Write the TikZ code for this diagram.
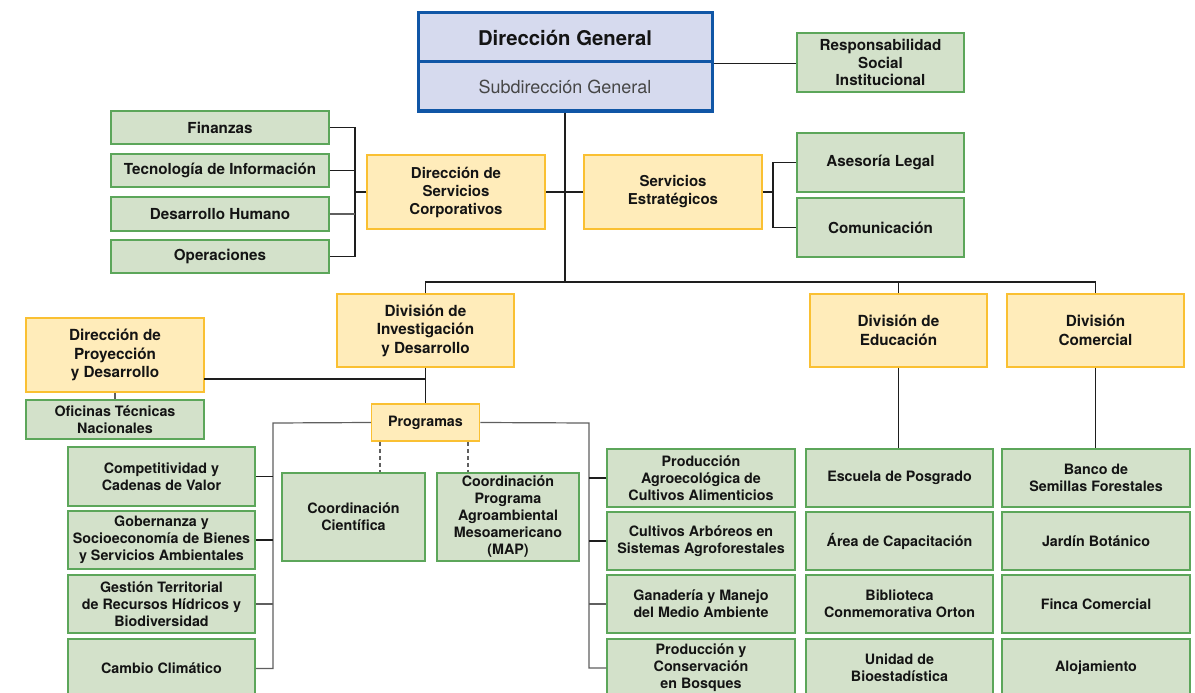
\documentclass[tikz,border=0pt]{standalone}
\usepackage{fontspec}
\setmainfont{TeX Gyre Heros}
\definecolor{gfill}{RGB}{211,225,202}
\definecolor{gline}{RGB}{92,166,90}
\definecolor{yfill}{RGB}{255,236,186}
\definecolor{yline}{RGB}{250,192,50}
\definecolor{bfill}{RGB}{214,218,238}
\definecolor{bline}{RGB}{16,86,166}
\definecolor{txt}{RGB}{20,20,20}
\definecolor{linec}{RGB}{30,30,30}
\definecolor{linegray}{RGB}{95,95,95}
\definecolor{subtxt}{RGB}{70,70,70}
\newcommand\gfnt{\fontsize{14.3}{17}\selectfont\bfseries}
\newcommand\tfnt{\fontsize{15.2}{17.5}\selectfont\bfseries}
\newcommand\yfnt{\fontsize{15.3}{18.5}\selectfont\bfseries}
\newcommand\sfnt{\fontsize{15}{18}\selectfont\bfseries}
\tikzset{
  base/.style={draw, rectangle, align=center, inner sep=0pt, text=txt},
  gbox/.style={base, fill=gfill, draw=gline, line width=1.5pt, font=\gfnt},
  tbox/.style={gbox, font=\tfnt},
  ybox/.style={base, fill=yfill, draw=yline, line width=1.5pt, font=\yfnt},
  sbox/.style={base, fill=yfill, draw=yline, line width=1.5pt, font=\sfnt},
  bbox/.style={base, fill=bfill, draw=bline, line width=3pt},
  wh/.style 2 args={minimum width=#1pt, minimum height=#2pt},
  conn/.style={draw=linec, line width=1.2pt},
  conng/.style={draw=linegray, line width=1.2pt},
  dconn/.style={draw=linegray, line width=1.2pt, dashed, dash pattern=on 4pt off 3pt},
}
\begin{document}
\begin{tikzpicture}[x=1pt,y=-1pt]
\useasboundingbox (0,0) rectangle (1195,693);
% top
\node[bbox, wh={294}{49}, font=\fontsize{20.3}{24}\selectfont\bfseries] (dg) at (565,37.5) {Dirección General};
\node[bbox, wh={294}{49}, font=\fontsize{18}{22}\selectfont, text=subtxt] (sub) at (565,86.5) {Subdirección General};
\node[tbox, wh={167}{59}] (rsi) at (880.5,62.5) {Responsabilidad\\Social\\Institucional};
% left group
\node[tbox, wh={218}{33}] (fin) at (220,127.5) {Finanzas};
\node[tbox, wh={218}{33}] (tec) at (220,170.5) {Tecnología de Información};
\node[tbox, wh={218}{34}] (dh) at (220,214) {Desarrollo Humano};
\node[tbox, wh={218}{33}] (ope) at (220,256.5) {Operaciones};
\node[sbox, wh={178}{74}] (dsc) at (456,192) {Dirección de\\Servicios\\Corporativos};
\node[sbox, wh={178}{74}] (se) at (673,192) {Servicios\\Estratégicos};
\node[tbox, wh={167}{59}] (al) at (880.5,162.5) {Asesoría Legal};
\node[tbox, wh={167}{59}] (com) at (880.5,227.5) {Comunicación};
% divisions
\node[ybox, wh={177}{73}] (did) at (425.5,330.5) {División de\\Investigación\\y Desarrollo};
\node[ybox, wh={177}{73}] (de) at (898.5,330.5) {División de\\Educación};
\node[ybox, wh={177}{73}] (dc) at (1095.5,330.5) {División\\Comercial};
\node[ybox, wh={178}{74}] (dpd) at (115,355) {Dirección de\\Proyección\\y Desarrollo};
\node[gbox, wh={178}{39}] (otn) at (115,419.5) {Oficinas Técnicas\\Nacionales};
\node[sbox, wh={108}{37}, font=\gfnt] (prog) at (425.5,422.5) {Programas};
% left programs
\node[gbox, wh={187}{59}] (comp) at (161.5,476.5) {Competitividad y\\Cadenas de Valor};
\node[gbox, wh={187}{58}] (gob) at (161.5,540) {Gobernanza y\\Socioeconomía de Bienes\\y Servicios Ambientales};
\node[gbox, wh={187}{58}] (gest) at (161.5,604) {Gestión Territorial\\de Recursos Hídricos y\\Biodiversidad};
\node[gbox, wh={187}{59}] (cc) at (161.5,668.5) {Cambio Climático};
\node[gbox, wh={143}{88}] (cci) at (353.5,517) {Coordinación\\Científica};
\node[gbox, wh={142}{88}] (map) at (508,517) {Coordinación\\Programa\\Agroambiental\\Mesoamericano\\(MAP)};
% right programs
\node[gbox, wh={188}{58}] (r1) at (701,478) {Producción\\Agroecológica de\\Cultivos Alimenticios};
\node[gbox, wh={188}{58}] (r2) at (701,541) {Cultivos Arbóreos en\\Sistemas Agroforestales};
\node[gbox, wh={188}{58}] (r3) at (701,604) {Ganadería y Manejo\\del Medio Ambiente};
\node[gbox, wh={188}{58}] (r4) at (701,668) {Producción y\\Conservación\\en Bosques};
% education
\node[gbox, wh={187}{58}] (e1) at (899.5,478) {Escuela de Posgrado};
\node[gbox, wh={187}{58}] (e2) at (899.5,541) {Área de Capacitación};
\node[gbox, wh={187}{58}] (e3) at (899.5,604) {Biblioteca\\Conmemorativa Orton};
\node[gbox, wh={187}{58}] (e4) at (899.5,668) {Unidad de\\Bioestadística};
% commercial
\node[gbox, wh={188}{58}] (c1) at (1096,478) {Banco de\\Semillas Forestales};
\node[gbox, wh={188}{58}] (c2) at (1096,541) {Jardín Botánico};
\node[gbox, wh={188}{58}] (c3) at (1096,604) {Finca Comercial};
\node[gbox, wh={188}{58}] (c4) at (1096,668) {Alojamiento};
% coordinates
\coordinate (bus) at (425,282);
\coordinate (lb) at (355,192);
\coordinate (rb) at (773,192);
\coordinate (dpdo) at (204,379);
\coordinate (dpdj) at (425.5,379);
\coordinate (pl) at (273,423);
\coordinate (pr) at (589,423);
% connectors
\draw[conn] (sub.south) -- (sub.south |- bus);
\draw[conn] (did.north) -- (did.north |- bus) -- (dc.north |- bus) -- (dc.north);
\draw[conn] (de.north) -- (de.north |- bus);
\draw[conn] (dg.south east) -- (dg.south east -| rsi.west);
\draw[conn] (fin.east) -- (fin.east -| lb) -- (ope.east -| lb) -- (ope.east);
\draw[conn] (tec.east) -- (tec.east -| lb);
\draw[conng] (dh.east) -- (dh.east -| lb);
\draw[conn] (dsc.west) -- (lb);
\draw[conn] (dsc.east) -- (se.west);
\draw[conn] (se.east) -- (rb);
\draw[conn] (al.west) -- (al.west -| rb) -- (com.west -| rb) -- (com.west);
\draw[conn] (dpdo) -- (dpdj);
\draw[conn] (did.south) -- (prog.north);
\draw[conng] (dpd.south) -- (otn.north);
\draw[conng] (prog.west) -- (pl) -- (pl |- cc.east) -- (cc.east);
\draw[conn] (comp.east) -- (comp.east -| pl);
\draw[conn] (gob.east) -- (gob.east -| pl);
\draw[conng] (gest.east) -- (gest.east -| pl);
\draw[conng] (prog.east) -- (pr) -- (pr |- r4.west) -- (r4.west);
\draw[conn] (r1.west) -- (r1.west -| pr);
\draw[conn] (r2.west) -- (r2.west -| pr);
\draw[conng] (r3.west) -- (r3.west -| pr);
\draw[dconn] ([xshift=-45.5pt]prog.south) -- ([xshift=-45.5pt]prog.south |- cci.north);
\draw[dconn] ([xshift=42.5pt]prog.south) -- ([xshift=42.5pt]prog.south |- map.north);
\draw[conn] (de.south) -- (de.south |- e1.north);
\draw[conn] (dc.south) -- (dc.south |- c1.north);
\end{tikzpicture}
\end{document}
